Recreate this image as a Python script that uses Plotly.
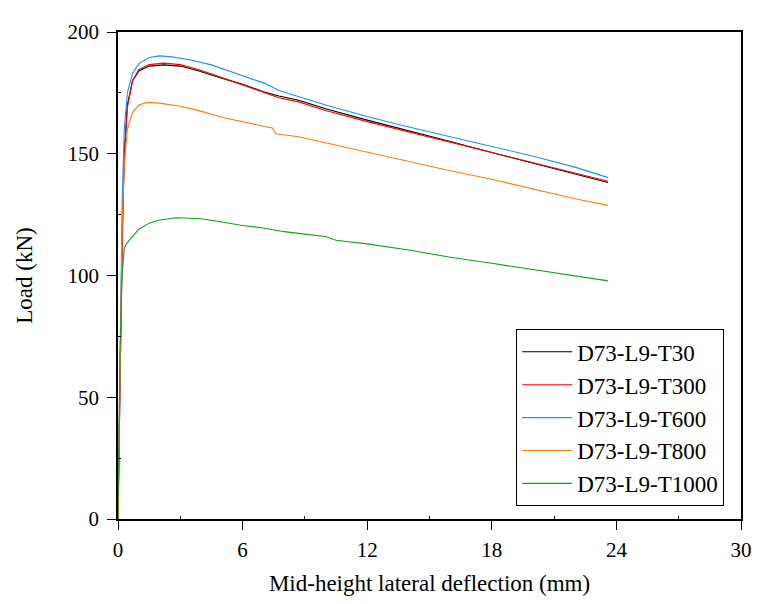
import plotly.graph_objects as go

names = ["D73-L9-T30", "D73-L9-T300", "D73-L9-T600", "D73-L9-T800", "D73-L9-T1000"]
colors = ["#000000", "#ff0000", "#1e90ff", "#ff7f0e", "#1a9e1a"]

x_t30 = [0, 0.1, 0.2, 0.3, 0.45, 0.7, 1.0, 1.5, 2.2, 3.0, 3.9, 5.0, 6.0, 7.0, 7.75, 8.7, 10, 12, 13.5, 16, 18, 20, 22, 23.6]
y_t30 = [0, 60, 115, 150, 170, 180, 184, 186, 186.5, 186, 184, 181, 178.5, 175.5, 173.7, 172, 168.5, 163.8, 160.6, 155, 150.5, 146, 141.5, 138.2]

x_t300 = [0, 0.1, 0.2, 0.3, 0.45, 0.7, 1.0, 1.5, 2.2, 3.0, 3.9, 5.0, 6.0, 7.0, 7.75, 8.7, 10, 12, 13.5, 16, 18, 20, 22, 23.6]
y_t300 = [0, 58, 112, 148, 169, 180, 184.5, 186.6, 187.2, 186.6, 184.5, 181.3, 178.3, 175.3, 173, 171.3, 167.8, 163.2, 160, 154.8, 150.6, 146.3, 142, 138.7]

x_t600 = [0, 0.1, 0.2, 0.3, 0.45, 0.7, 1.0, 1.5, 2.0, 2.6, 3.5, 4.5, 5.5, 6.5, 7.1, 7.75, 8.7, 10, 12, 13.5, 16, 18, 20, 22, 23.6]
y_t600 = [0, 70, 130, 160, 175, 183, 187, 189.5, 190.2, 189.8, 188.5, 186.5, 183.5, 180.5, 178.8, 176, 173.4, 170, 165.3, 162, 157, 153, 149, 144.5, 140.2]

x_t800 = [0, 0.1, 0.2, 0.3, 0.45, 0.7, 1.0, 1.4, 2.0, 3.0, 3.9, 5.0, 6.0, 7.0, 7.43, 7.6, 8.7, 10, 12, 13.5, 16, 18, 20, 22, 23.6]
y_t800 = [0, 70, 120, 145, 160, 167, 170, 171.1, 170.8, 169.5, 167.7, 165, 163, 161.3, 160.6, 158.2, 157, 154.5, 150.5, 147.8, 143, 139.5, 135.5, 131.5, 128.8]

x_t1000 = [0, 0.05, 0.1, 0.2, 0.3, 0.4, 0.7, 1.0, 1.5, 2.0, 2.8, 4.0, 5.0, 6.0, 7.0, 8.0, 9.0, 10.0, 10.5, 12, 14, 16, 18, 20, 22, 23.6]
y_t1000 = [0, 40, 70, 100, 111, 113, 116, 119, 121.5, 122.8, 123.7, 123.3, 122, 120.5, 119.5, 118, 117, 116, 114.5, 113, 110.5, 107.5, 105, 102.5, 100, 97.8]

xs = [x_t30, x_t300, x_t600, x_t800, x_t1000]
ys = [y_t30, y_t300, y_t600, y_t800, y_t1000]

x_ticks = [0, 6, 12, 18, 24, 30]
y_ticks = [0, 50, 100, 150, 200]

fig = go.Figure()
for n, c, x, y in zip(names, colors, xs, ys):
    fig.add_trace(go.Scatter(x=x, y=y, mode="lines", name=n,
                             line=dict(color=c, width=1.1)))

font = "Liberation Serif"
fig.update_layout(
    width=756, height=596,
    margin=dict(l=110, r=16, t=15, b=83),
    paper_bgcolor="white", plot_bgcolor="white",
    font=dict(family=font, size=21, color="black"),
    showlegend=True,
    legend=dict(x=0.973, y=0.026, xanchor="right", yanchor="bottom",
                bordercolor="black", borderwidth=1, bgcolor="white",
                font=dict(size=23, family=font), tracegroupgap=0,
                itemwidth=50),
)
fig.update_xaxes(range=[0, 30], tickvals=x_ticks, ticks="outside", ticklen=9,
                 tickcolor="black", showline=True, linecolor="black", linewidth=1.5,
                 mirror=True, showgrid=False, zeroline=False, ticklabelstandoff=2,
                 minor=dict(tickvals=[3, 9, 15, 21, 27], ticks="inside", ticklen=3, tickcolor="black"),
                 title=dict(text="Mid-height lateral deflection (mm)", font=dict(size=23), standoff=14))
fig.update_yaxes(range=[0, 200], tickvals=y_ticks, ticks="outside", ticklen=9,
                 tickcolor="black", showline=True, linecolor="black", linewidth=1.5,
                 mirror=True, showgrid=False, zeroline=False, ticklabelstandoff=4,
                 minor=dict(tickvals=[25, 75, 125, 175], ticks="inside", ticklen=3, tickcolor="black"),
                 title=dict(text="Load (kN)", font=dict(size=23), standoff=28))

fig.write_html("out.html")
